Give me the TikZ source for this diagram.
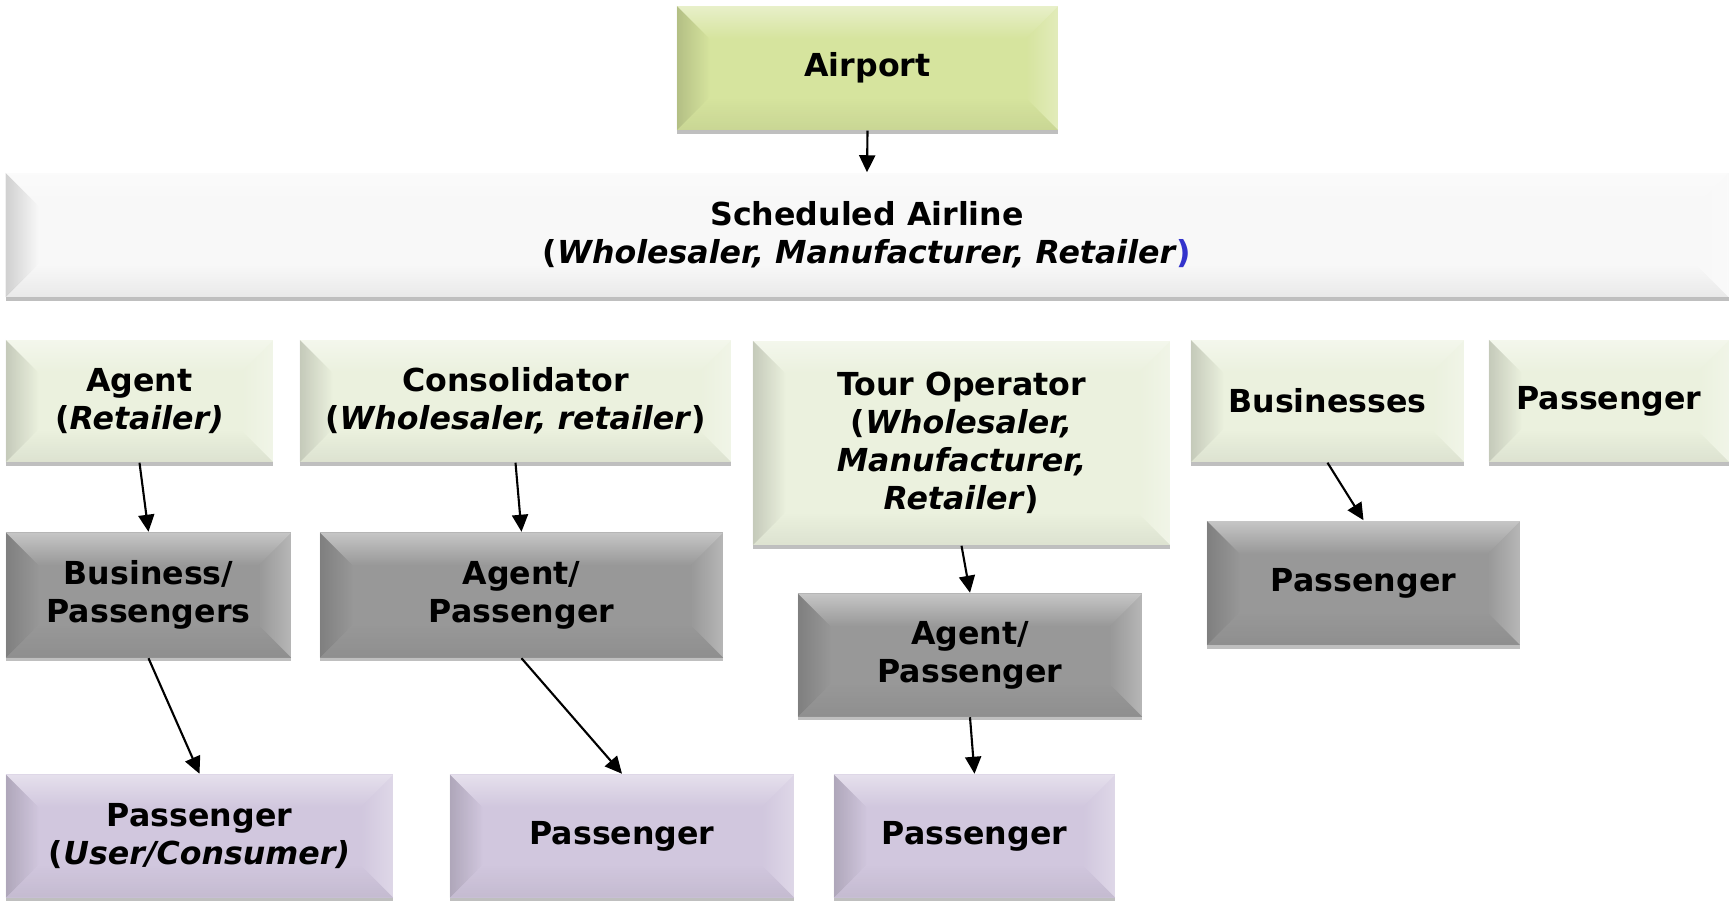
\documentclass[tikz,border=0pt]{standalone}
\usepackage{fontspec}
\setmainfont{DejaVu Sans}
\usepackage{tikz}
\usetikzlibrary{arrows.meta,shadows,fadings}
\definecolor{limegreen}{RGB}{214,228,158}
\definecolor{paleairline}{RGB}{248,248,248}
\definecolor{palegreen}{RGB}{235,241,222}
\definecolor{midgray}{RGB}{152,152,152}
\definecolor{palelilac}{RGB}{209,199,222}
\definecolor{bracketblue}{RGB}{51,51,204}
\tikzset{
  bevel/.style={path picture={
    \coordinate (nw) at (path picture bounding box.north west);
    \coordinate (ne) at (path picture bounding box.north east);
    \coordinate (sw) at (path picture bounding box.south west);
    \coordinate (se) at (path picture bounding box.south east);
    \fill[white,opacity=.45,path fading=south] (nw)--(ne)--([xshift=-.33cm,yshift=-.33cm]ne)--([xshift=.33cm,yshift=-.33cm]nw)--cycle;
    \fill[black,opacity=.16,path fading=east] (nw)--([xshift=.33cm,yshift=-.33cm]nw)--([xshift=.33cm,yshift=.33cm]sw)--(sw)--cycle;
    \fill[white,opacity=.3,path fading=west] (ne)--([xshift=-.33cm,yshift=-.33cm]ne)--([xshift=-.33cm,yshift=.33cm]se)--(se)--cycle;
    \fill[black,opacity=.06,path fading=north] (sw)--([xshift=.33cm,yshift=.33cm]sw)--([xshift=-.33cm,yshift=.33cm]se)--(se)--cycle;
  }}
}
\begin{document}
\begin{tikzpicture}[x=0.01cm,y=-0.01cm,
  box/.style={bevel,inner sep=0pt,align=center,font=\fontsize{9}{10.8}\selectfont\bfseries,
    drop shadow={shadow xshift=0cm,shadow yshift=-0.035cm,opacity=.25,fill=black}},
  arrow/.style={-{Triangle[length=0.17cm,width=0.16cm]},line width=0.6pt}
]
\useasboundingbox (0,0) rectangle (1731,904);
% top levels
\node[box,fill=limegreen,minimum width=3.81cm,minimum height=1.24cm] (airport) at (867.5,68) {Airport};
\node[box,fill=paleairline,minimum width=17.22cm,minimum height=1.24cm] (airline) at (867,235)
  {Scheduled Airline\\(\textit{Wholesaler, Manufacturer, Retailer}\textcolor{bracketblue}{)}};
% intermediaries
\node[box,fill=palegreen,minimum width=2.67cm,minimum height=1.22cm] (agent) at (139.5,401) {Agent\\(\textit{Retailer)}};
\node[box,fill=palegreen,minimum width=4.31cm,minimum height=1.22cm] (consol) at (515.5,401) {Consolidator\\(\textit{Wholesaler, retailer})};
\node[box,fill=palegreen,minimum width=4.17cm,minimum height=2.04cm] (tourop) at (961.5,443)
  {Tour Operator\\(\textit{Wholesaler,}\\\textit{Manufacturer,}\\\textit{Retailer})};
\node[box,fill=palegreen,minimum width=2.73cm,minimum height=1.22cm] (business) at (1327.5,401) {Businesses};
\node[box,fill=palegreen,minimum width=2.40cm,minimum height=1.22cm] (paxtop) at (1609,401) {Passenger};
% second tier
\node[box,fill=midgray,minimum width=2.85cm,minimum height=1.25cm] (buspax) at (148.5,595) {Business/\\Passengers};
\node[box,fill=midgray,minimum width=4.03cm,minimum height=1.25cm] (agpaxcon) at (521.5,595) {Agent/\\Passenger};
\node[box,fill=midgray,minimum width=3.44cm,minimum height=1.23cm] (agpaxtour) at (970,655) {Agent/\\Passenger};
\node[box,fill=midgray,minimum width=3.13cm,minimum height=1.24cm] (paxbus) at (1363.5,583) {Passenger};
% end users
\node[box,fill=palelilac,minimum width=3.87cm,minimum height=1.23cm] (paxuser) at (199.5,836) {Passenger\\(\textit{User/Consumer)}};
\node[box,fill=palelilac,minimum width=3.44cm,minimum height=1.23cm] (paxcon) at (622,836) {Passenger};
\node[box,fill=palelilac,minimum width=2.81cm,minimum height=1.23cm] (paxtour) at (974.5,836) {Passenger};
% arrows
\draw[arrow] (airport.south)--(airline.north);
\draw[arrow] (agent.south)--(buspax.north);
\draw[arrow] (consol.south)--(agpaxcon.north);
\draw[arrow] (tourop.south)--(agpaxtour.north);
\draw[arrow] (business.south)--(paxbus.north);
\draw[arrow] (buspax.south)--(paxuser.north);
\draw[arrow] (agpaxcon.south)--(paxcon.north);
\draw[arrow] (agpaxtour.south)--(paxtour.north);
\end{tikzpicture}
\end{document}
